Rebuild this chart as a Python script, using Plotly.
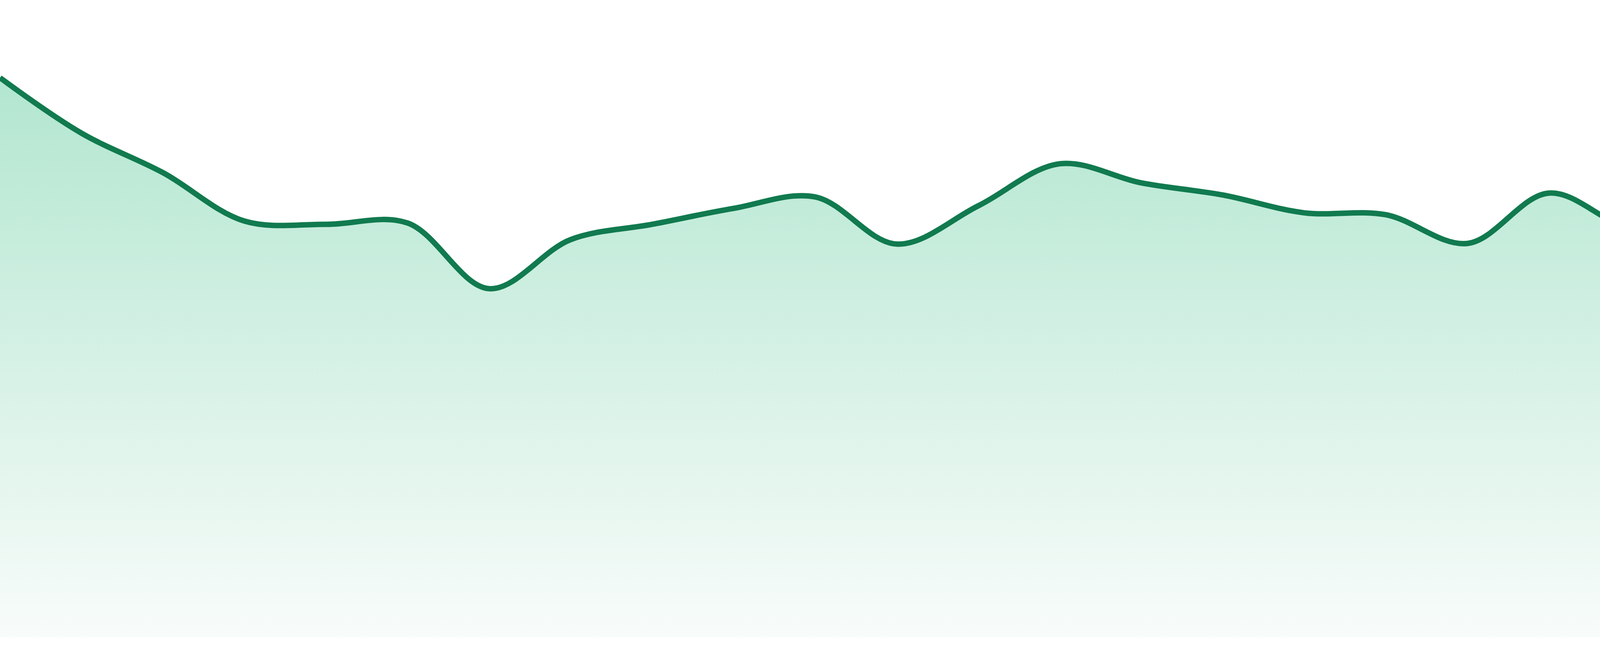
import plotly.graph_objects as go

# Data (24 evenly spaced points)
x_index = list(range(24))
values = [87.8, 79.1, 72.9, 65.3, 64.8, 65.0, 54.7, 62.4, 64.8, 67.3, 69.1, 61.7,
          67.7, 74.3, 71.3, 69.4, 66.6, 66.3, 61.8, 69.7, 64.2, 64.8, 66.2, 72.6]

LINE_COLOR = "#117a4f"
FILL_TOP = "rgb(178,230,208)"
FILL_BOTTOM = "rgb(248,252,250)"

fig = go.Figure()
fig.add_trace(go.Scatter(
    x=x_index,
    y=values,
    mode="lines",
    line=dict(color=LINE_COLOR, width=14, shape="spline", smoothing=1.0),
    fill="tozeroy",
    fillgradient=dict(
        type="vertical",
        colorscale=[[0, FILL_BOTTOM], [1, FILL_TOP]],
        start=0,
        stop=max(values),
    ),
    hoverinfo="skip",
    showlegend=False,
))

fig.update_layout(
    width=4800,
    height=1680,
    margin=dict(l=0, r=0, t=0, b=48),
    paper_bgcolor="white",
    plot_bgcolor="white",
    xaxis=dict(range=[0, 23], visible=False, showgrid=False, zeroline=False),
    yaxis=dict(range=[0, 100], visible=False, showgrid=False, zeroline=False),
)

fig.write_html(
    "out.html",
    config={"displayModeBar": False},
    post_script="document.body.style.margin='0px';document.body.style.overflow='hidden';",
)
